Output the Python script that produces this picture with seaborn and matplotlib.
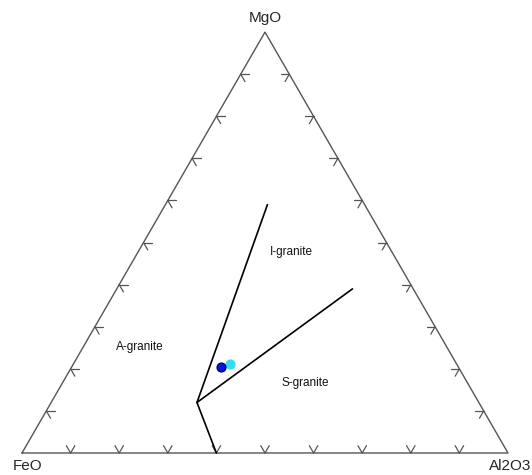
import numpy as np
import matplotlib
matplotlib.use("Agg")
import matplotlib.pyplot as plt
import seaborn as sns

# ternary data, fractions (FeO, MgO, Al2O3)
apices = ["FeO", "MgO", "Al2O3"]
boundary_junction = [0.58, 0.12, 0.30]
boundary_ends = [
    [0.20, 0.59, 0.21],   # I / A boundary
    [0.125, 0.39, 0.485],  # I / S boundary
    [0.60, 0.00, 0.40],   # A / S boundary
]
field_names = ["I-granite", "A-granite", "S-granite"]
field_pos = [[0.206, 0.478, 0.316], [0.631, 0.252, 0.117], [0.334, 0.166, 0.500]]
sample_feo = [0.488, 0.466]
sample_mgo = [0.204, 0.2115]
sample_al2o3 = [0.307, 0.322]
sample_colors = ["#1010e0", "#33dcf5"]
sample_edges = ["#000080", "#33dcf5"]
tick_fracs = [0.1, 0.2, 0.3, 0.4, 0.5, 0.6, 0.7, 0.8, 0.9]

H = np.sqrt(3) / 2


def to_xy(fe, mg, al):
    fe, mg, al = np.asarray(fe, float), np.asarray(mg, float), np.asarray(al, float)
    s = fe + mg + al
    return (al + mg / 2) / s, (mg * H) / s


sns.set_style("white")
plt.rcParams["font.family"] = ["Liberation Sans", "DejaVu Sans"]

fig = plt.figure(figsize=(5.32, 4.75), dpi=100)
ax = fig.add_axes([0, 0, 1, 1])
S = 486.0
ax.set_xlim(-22 / S, 510 / S)
ax.set_ylim(-22 / S, 453 / S)
ax.axis("off")

# triangle outline
corners = np.array([[0, 0], [0.5, H], [1, 0], [0, 0]])
ax.plot(corners[:, 0], corners[:, 1], color="#555555", lw=1.0)

# edge ticks (V shapes pointing inward, parallel to the other edges)
L = 8.5 / S
edges = [
    ((0, 0), (1, 0), [60, 120]),        # bottom
    ((0, 0), (0.5, H), [0, -60]),       # left
    ((1, 0), (0.5, H), [180, 240]),     # right
]
for p0, p1, angs in edges:
    for f in tick_fracs:
        px = p0[0] + (p1[0] - p0[0]) * f
        py = p0[1] + (p1[1] - p0[1]) * f
        for a in angs:
            r = np.radians(a)
            ax.plot([px, px + L * np.cos(r)], [py, py + L * np.sin(r)],
                    color="#555555", lw=0.9)

# field boundaries
jx, jy = to_xy(*boundary_junction)
for end in boundary_ends:
    ex, ey = to_xy(*end)
    ax.plot([jx, ex], [jy, ey], color="black", lw=1.2)

# field labels
for name, pos in zip(field_names, field_pos):
    x, y = to_xy(*pos)
    ax.text(x, y, name, fontsize=8.5, ha="center", va="center", color="#111111")

# samples
sx, sy = to_xy(sample_feo, sample_mgo, sample_al2o3)
for i in [1, 0]:
    sns.scatterplot(x=[sx[i]], y=[sy[i]], ax=ax, s=40, color=sample_colors[i],
                    edgecolor=sample_edges[i], linewidth=1.0, zorder=5)

# apex labels
ax.text(0.5, H + 14 / S, apices[1], fontsize=11, ha="center", va="center")
ax.text(6 / S, -13 / S, apices[0], fontsize=11, ha="center", va="center")
ax.text(1 + 2 / S, -13 / S, apices[2], fontsize=11, ha="center", va="center")

fig.savefig("out.png", dpi=100)
